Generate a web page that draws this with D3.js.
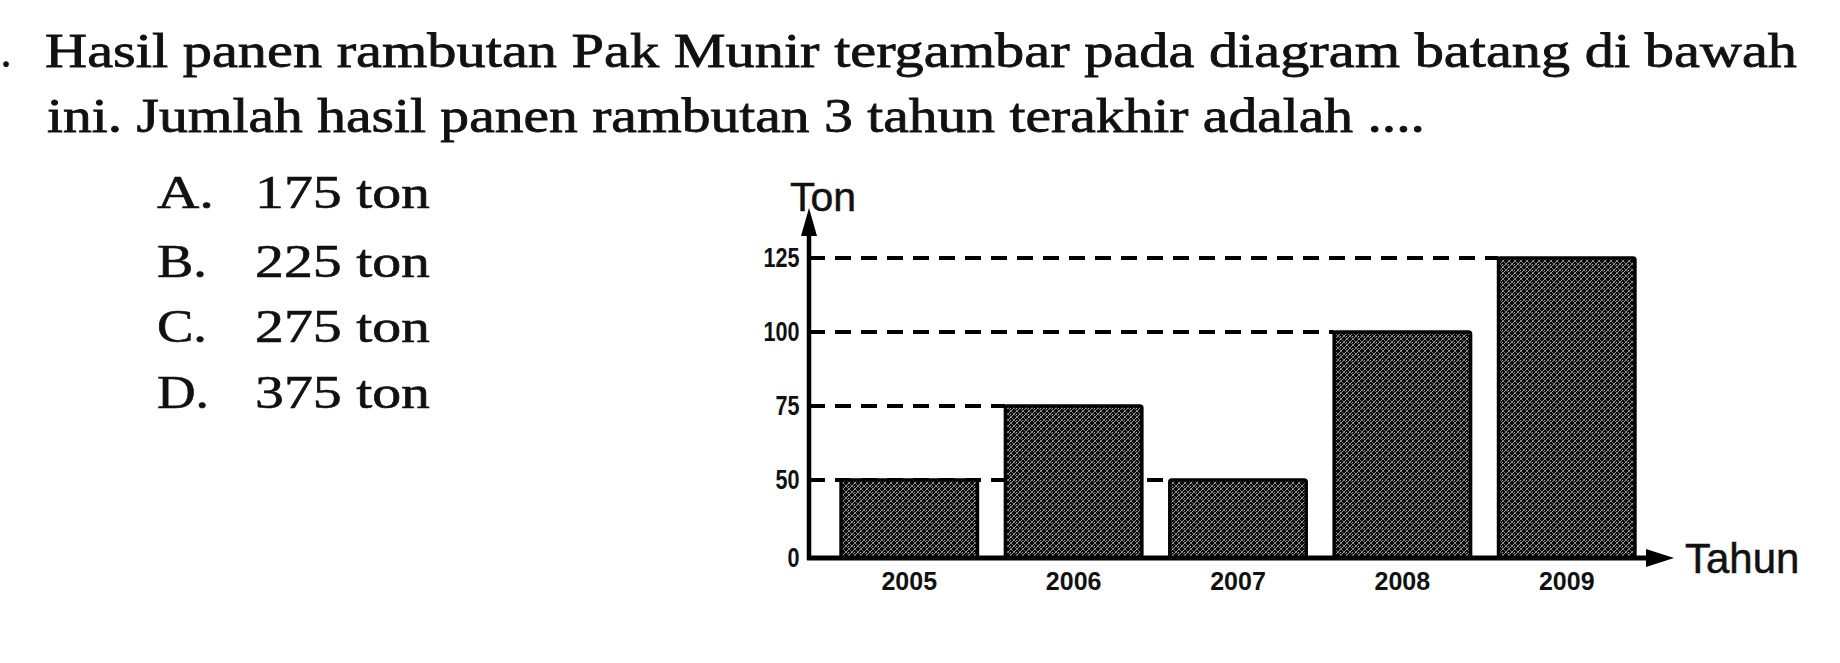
<!DOCTYPE html>
<html>
<head>
<meta charset="utf-8">
<script src="https://cdn.jsdelivr.net/npm/d3@7/dist/d3.min.js"></script>
<style>
  html, body { margin: 0; padding: 0; background: #fff; }
  svg { display: block; }
</style>
</head>
<body>
<svg id="chart" width="1840" height="663"></svg>
<script>
// ---- data ----
const years = ["2005", "2006", "2007", "2008", "2009"];
const harvest = [50, 75, 50, 100, 125];
const yTicks = [0, 50, 75, 100, 125];
const yAxisTitle = "Ton";
const xAxisTitle = "Tahun";
const questionLines = [
  "Hasil panen rambutan Pak Munir tergambar pada diagram batang di bawah",
  "ini. Jumlah hasil panen rambutan 3 tahun terakhir adalah ...."
];
const optionLetters = ["A.", "B.", "C.", "D."];
const optionTexts = ["175 ton", "225 ton", "275 ton", "375 ton"];

// ---- layout ----
const svg = d3.select("#chart");
svg.append("rect").attr("width", 1840).attr("height", 663).attr("fill", "#fff");

const axisX = 809, axisY = 558;
const serif = "Liberation Serif, Times New Roman, serif";
const sans = "Liberation Sans, Arial, sans-serif";

// pattern for the textured bars
const defs = svg.append("defs");
const pat = defs.append("pattern").attr("id", "tex")
  .attr("width", 6).attr("height", 6).attr("patternUnits", "userSpaceOnUse");
pat.append("rect").attr("width", 6).attr("height", 6).attr("fill", "#0a0a0a");
pat.append("path").attr("d", "M-1,7 L7,-1").attr("stroke", "#fff")
  .attr("stroke-width", 1).attr("opacity", 0.6);
pat.append("path").attr("d", "M-1,-1 L7,7").attr("stroke", "#fff")
  .attr("stroke-width", 0.9).attr("opacity", 0.45);
pat.append("rect").attr("x", 2).attr("y", 0).attr("width", 1).attr("height", 1)
  .attr("fill", "#fff").attr("opacity", 0.7);

// question text
const qPos = [{x: 45, y: 67, len: 1752}, {x: 47, y: 132, len: 1378}];
svg.append("text").attr("x", 0).attr("y", 67)
  .attr("font-family", serif).attr("font-size", 48).attr("fill", "#111").text(".");
questionLines.forEach((t, i) => {
  svg.append("text")
    .attr("x", qPos[i].x).attr("y", qPos[i].y)
    .attr("font-family", serif)
    .attr("font-size", 49).attr("fill", "#111")
    .attr("stroke", "#111").attr("stroke-width", 0.8)
    .attr("textLength", qPos[i].len).attr("lengthAdjust", "spacingAndGlyphs")
    .text(t);
});

// options
const optBase = [208, 277, 342, 408];
const letterLen = [57, 50, 50, 52];
optionLetters.forEach((l, i) => {
  svg.append("text").attr("x", 157).attr("y", optBase[i])
    .attr("font-family", serif).attr("font-size", 46).attr("fill", "#111")
    .attr("stroke", "#111").attr("stroke-width", 0.6)
    .attr("textLength", letterLen[i]).attr("lengthAdjust", "spacingAndGlyphs")
    .text(l);
  svg.append("text").attr("x", 255).attr("y", optBase[i])
    .attr("font-family", serif).attr("font-size", 46).attr("fill", "#111")
    .attr("stroke", "#111").attr("stroke-width", 0.6)
    .attr("textLength", 175).attr("lengthAdjust", "spacingAndGlyphs")
    .text(optionTexts[i]);
});

// scales
const x = d3.scaleBand().domain(years)
  .range([axisX, 1667]).paddingInner(0.17).paddingOuter(0.195);
// broken axis: 0..50 occupies the same space as one 25-step
const y = d3.scaleLinear().domain([0, 50, 125]).range([axisY, 480, 258]);

const data = years.map((yr, i) => ({year: yr, value: harvest[i]}));

// dashed guide lines, each running to the last bar reaching that level
yTicks.filter(v => v > 0).forEach(v => {
  const hits = data.filter(d => d.value === v);
  const end = hits.length ? x(hits[hits.length - 1].year) : axisX;
  svg.append("line")
    .attr("x1", axisX).attr("x2", end)
    .attr("y1", y(v)).attr("y2", y(v))
    .attr("stroke", "#000").attr("stroke-width", 4)
    .attr("stroke-dasharray", "16 10");
});

// bars
svg.append("g").selectAll("rect").data(data).join("rect")
  .attr("x", d => x(d.year))
  .attr("y", d => y(d.value))
  .attr("width", x.bandwidth())
  .attr("height", d => axisY - y(d.value))
  .attr("rx", 2)
  .attr("fill", "url(#tex)")
  .attr("stroke", "#000").attr("stroke-width", 3.5);

// y axis labels
const gy = svg.append("g").attr("transform", `translate(${axisX},0)`)
  .call(d3.axisLeft(y).tickValues(yTicks).tickSize(0).tickPadding(12).tickFormat(d3.format("d")));
gy.select(".domain").remove();
gy.selectAll("text")
  .attr("font-family", sans)
  .attr("font-size", 27).attr("font-weight", "bold").attr("fill", "#111")
  .attr("transform", "scale(0.8,1)");

// x axis labels
const gx = svg.append("g").attr("transform", `translate(0,${axisY})`)
  .call(d3.axisBottom(x).tickSize(0).tickPadding(14));
gx.select(".domain").remove();
gx.selectAll("text")
  .attr("font-family", sans)
  .attr("font-size", 25).attr("font-weight", "bold").attr("fill", "#111");

// axis lines with arrows
svg.append("line").attr("x1", axisX).attr("x2", axisX)
  .attr("y1", axisY + 2).attr("y2", 232)
  .attr("stroke", "#000").attr("stroke-width", 4.5);
svg.append("path").attr("d", `M${axisX},208 L${axisX - 8},236 L${axisX + 8},236 Z`).attr("fill", "#000");

svg.append("line").attr("x1", axisX - 2).attr("x2", 1650)
  .attr("y1", axisY).attr("y2", axisY)
  .attr("stroke", "#000").attr("stroke-width", 5);
svg.append("path").attr("d", `M1674,${axisY} L1646,${axisY - 9} L1646,${axisY + 9} Z`).attr("fill", "#000");

// axis titles
svg.append("text").attr("x", 790).attr("y", 211)
  .attr("font-family", sans).attr("font-size", 41).attr("fill", "#111")
  .attr("stroke", "#111").attr("stroke-width", 0.5).text(yAxisTitle);
svg.append("text").attr("x", 1685).attr("y", 573)
  .attr("font-family", sans).attr("font-size", 42).attr("fill", "#111")
  .attr("stroke", "#111").attr("stroke-width", 0.5).text(xAxisTitle);
</script>
</body>
</html>
